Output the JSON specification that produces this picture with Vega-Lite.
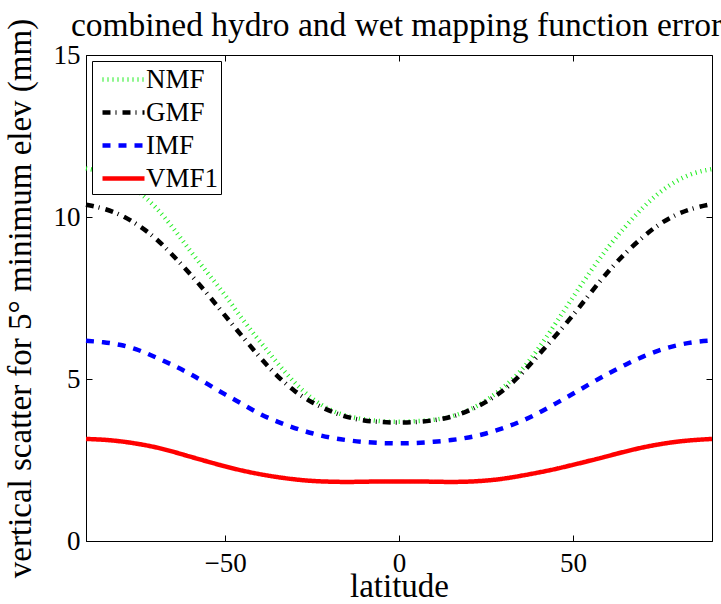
{
  "$schema": "https://vega.github.io/schema/vega-lite/v6.json",
  "width": 626,
  "height": 486,
  "autosize": {"type": "none"},
  "padding": {"left": 86, "top": 55, "right": 9, "bottom": 63},
  "background": "white",
  "config": {
    "font": "Liberation Serif",
    "view": {"stroke": "black", "strokeWidth": 1},
    "axis": {
      "labelFont": "Liberation Serif",
      "labelFontSize": 27,
      "labelColor": "black",
      "titleFont": "Liberation Serif",
      "titleFontSize": 33,
      "titleFontWeight": "normal",
      "titleColor": "black",
      "grid": false,
      "domainColor": "black",
      "tickColor": "black",
      "tickSize": -6,
      "labelPadding": 12
    }
  },
  "title": {
    "text": "combined hydro and wet mapping function errors",
    "font": "Liberation Serif",
    "fontSize": 33.5,
    "fontWeight": "normal",
    "color": "black",
    "anchor": "middle",
    "baseline": "alphabetic",
    "offset": 20,
    "dy": 71,
    "dx": 4
  },
  "data": {
    "values": [
      {"lat": -90, "model": "NMF", "v": 11.5}, {"lat": -85, "model": "NMF", "v": 11.4}, {"lat": -80, "model": "NMF", "v": 11.15}, {"lat": -75, "model": "NMF", "v": 10.8}, {"lat": -70, "model": "NMF", "v": 10.33}, {"lat": -65, "model": "NMF", "v": 9.68}, {"lat": -60, "model": "NMF", "v": 8.94}, {"lat": -55, "model": "NMF", "v": 8.27}, {"lat": -50, "model": "NMF", "v": 7.6}, {"lat": -45, "model": "NMF", "v": 6.83}, {"lat": -40, "model": "NMF", "v": 6.16}, {"lat": -35, "model": "NMF", "v": 5.49}, {"lat": -30, "model": "NMF", "v": 4.87}, {"lat": -25, "model": "NMF", "v": 4.38}, {"lat": -20, "model": "NMF", "v": 4.04}, {"lat": -15, "model": "NMF", "v": 3.85}, {"lat": -10, "model": "NMF", "v": 3.75}, {"lat": -5, "model": "NMF", "v": 3.69}, {"lat": 0, "model": "NMF", "v": 3.67}, {"lat": 5, "model": "NMF", "v": 3.7}, {"lat": 10, "model": "NMF", "v": 3.73}, {"lat": 15, "model": "NMF", "v": 3.83}, {"lat": 20, "model": "NMF", "v": 4.02}, {"lat": 25, "model": "NMF", "v": 4.32}, {"lat": 30, "model": "NMF", "v": 4.73}, {"lat": 35, "model": "NMF", "v": 5.22}, {"lat": 40, "model": "NMF", "v": 5.91}, {"lat": 45, "model": "NMF", "v": 6.71}, {"lat": 50, "model": "NMF", "v": 7.52}, {"lat": 55, "model": "NMF", "v": 8.32}, {"lat": 60, "model": "NMF", "v": 9.06}, {"lat": 65, "model": "NMF", "v": 9.7}, {"lat": 70, "model": "NMF", "v": 10.29}, {"lat": 75, "model": "NMF", "v": 10.78}, {"lat": 80, "model": "NMF", "v": 11.14}, {"lat": 85, "model": "NMF", "v": 11.38}, {"lat": 90, "model": "NMF", "v": 11.48},
      {"lat": -90, "model": "GMF", "v": 10.38}, {"lat": -85, "model": "GMF", "v": 10.27}, {"lat": -80, "model": "GMF", "v": 10.08}, {"lat": -75, "model": "GMF", "v": 9.76}, {"lat": -70, "model": "GMF", "v": 9.36}, {"lat": -65, "model": "GMF", "v": 8.82}, {"lat": -60, "model": "GMF", "v": 8.24}, {"lat": -55, "model": "GMF", "v": 7.62}, {"lat": -50, "model": "GMF", "v": 6.95}, {"lat": -45, "model": "GMF", "v": 6.31}, {"lat": -40, "model": "GMF", "v": 5.66}, {"lat": -35, "model": "GMF", "v": 5.08}, {"lat": -30, "model": "GMF", "v": 4.61}, {"lat": -25, "model": "GMF", "v": 4.27}, {"lat": -20, "model": "GMF", "v": 4.01}, {"lat": -15, "model": "GMF", "v": 3.82}, {"lat": -10, "model": "GMF", "v": 3.71}, {"lat": -5, "model": "GMF", "v": 3.67}, {"lat": 0, "model": "GMF", "v": 3.65}, {"lat": 5, "model": "GMF", "v": 3.67}, {"lat": 10, "model": "GMF", "v": 3.72}, {"lat": 15, "model": "GMF", "v": 3.82}, {"lat": 20, "model": "GMF", "v": 4.01}, {"lat": 25, "model": "GMF", "v": 4.28}, {"lat": 30, "model": "GMF", "v": 4.63}, {"lat": 35, "model": "GMF", "v": 5.12}, {"lat": 40, "model": "GMF", "v": 5.73}, {"lat": 45, "model": "GMF", "v": 6.33}, {"lat": 50, "model": "GMF", "v": 6.96}, {"lat": 55, "model": "GMF", "v": 7.65}, {"lat": 60, "model": "GMF", "v": 8.31}, {"lat": 65, "model": "GMF", "v": 8.88}, {"lat": 70, "model": "GMF", "v": 9.38}, {"lat": 75, "model": "GMF", "v": 9.8}, {"lat": 80, "model": "GMF", "v": 10.1}, {"lat": 85, "model": "GMF", "v": 10.29}, {"lat": 90, "model": "GMF", "v": 10.4},
      {"lat": -90, "model": "IMF", "v": 6.18}, {"lat": -85, "model": "IMF", "v": 6.14}, {"lat": -80, "model": "IMF", "v": 6.06}, {"lat": -75, "model": "IMF", "v": 5.91}, {"lat": -70, "model": "IMF", "v": 5.67}, {"lat": -65, "model": "IMF", "v": 5.43}, {"lat": -60, "model": "IMF", "v": 5.16}, {"lat": -55, "model": "IMF", "v": 4.84}, {"lat": -50, "model": "IMF", "v": 4.52}, {"lat": -45, "model": "IMF", "v": 4.23}, {"lat": -40, "model": "IMF", "v": 3.91}, {"lat": -35, "model": "IMF", "v": 3.68}, {"lat": -30, "model": "IMF", "v": 3.48}, {"lat": -25, "model": "IMF", "v": 3.32}, {"lat": -20, "model": "IMF", "v": 3.19}, {"lat": -15, "model": "IMF", "v": 3.11}, {"lat": -10, "model": "IMF", "v": 3.05}, {"lat": -5, "model": "IMF", "v": 3.02}, {"lat": 0, "model": "IMF", "v": 3.01}, {"lat": 5, "model": "IMF", "v": 3.02}, {"lat": 10, "model": "IMF", "v": 3.06}, {"lat": 15, "model": "IMF", "v": 3.11}, {"lat": 20, "model": "IMF", "v": 3.19}, {"lat": 25, "model": "IMF", "v": 3.31}, {"lat": 30, "model": "IMF", "v": 3.48}, {"lat": 35, "model": "IMF", "v": 3.68}, {"lat": 40, "model": "IMF", "v": 3.94}, {"lat": 45, "model": "IMF", "v": 4.24}, {"lat": 50, "model": "IMF", "v": 4.54}, {"lat": 55, "model": "IMF", "v": 4.86}, {"lat": 60, "model": "IMF", "v": 5.16}, {"lat": 65, "model": "IMF", "v": 5.44}, {"lat": 70, "model": "IMF", "v": 5.69}, {"lat": 75, "model": "IMF", "v": 5.9}, {"lat": 80, "model": "IMF", "v": 6.05}, {"lat": 85, "model": "IMF", "v": 6.15}, {"lat": 90, "model": "IMF", "v": 6.19},
      {"lat": -90, "model": "VMF1", "v": 3.15}, {"lat": -85, "model": "VMF1", "v": 3.13}, {"lat": -80, "model": "VMF1", "v": 3.08}, {"lat": -75, "model": "VMF1", "v": 3.0}, {"lat": -70, "model": "VMF1", "v": 2.9}, {"lat": -65, "model": "VMF1", "v": 2.76}, {"lat": -60, "model": "VMF1", "v": 2.6}, {"lat": -55, "model": "VMF1", "v": 2.45}, {"lat": -50, "model": "VMF1", "v": 2.3}, {"lat": -45, "model": "VMF1", "v": 2.17}, {"lat": -40, "model": "VMF1", "v": 2.06}, {"lat": -35, "model": "VMF1", "v": 1.97}, {"lat": -30, "model": "VMF1", "v": 1.9}, {"lat": -25, "model": "VMF1", "v": 1.85}, {"lat": -20, "model": "VMF1", "v": 1.83}, {"lat": -15, "model": "VMF1", "v": 1.82}, {"lat": -10, "model": "VMF1", "v": 1.83}, {"lat": -5, "model": "VMF1", "v": 1.84}, {"lat": 0, "model": "VMF1", "v": 1.84}, {"lat": 5, "model": "VMF1", "v": 1.84}, {"lat": 10, "model": "VMF1", "v": 1.83}, {"lat": 15, "model": "VMF1", "v": 1.82}, {"lat": 20, "model": "VMF1", "v": 1.83}, {"lat": 25, "model": "VMF1", "v": 1.86}, {"lat": 30, "model": "VMF1", "v": 1.92}, {"lat": 35, "model": "VMF1", "v": 2.01}, {"lat": 40, "model": "VMF1", "v": 2.11}, {"lat": 45, "model": "VMF1", "v": 2.22}, {"lat": 50, "model": "VMF1", "v": 2.35}, {"lat": 55, "model": "VMF1", "v": 2.48}, {"lat": 60, "model": "VMF1", "v": 2.62}, {"lat": 65, "model": "VMF1", "v": 2.76}, {"lat": 70, "model": "VMF1", "v": 2.89}, {"lat": 75, "model": "VMF1", "v": 2.99}, {"lat": 80, "model": "VMF1", "v": 3.07}, {"lat": 85, "model": "VMF1", "v": 3.12}, {"lat": 90, "model": "VMF1", "v": 3.15}
    ]
  },
  "layer": [
    {
      "mark": {"type": "line", "strokeWidth": 4.5, "strokeCap": "butt", "interpolate": "basis"},
      "encoding": {
        "x": {
          "field": "lat", "type": "quantitative",
          "scale": {"domain": [-90, 90], "nice": false},
          "axis": {"values": [-50, 0, 50], "title": "latitude", "labelPadding": 15, "titlePadding": -6}
        },
        "y": {
          "field": "v", "type": "quantitative",
          "scale": {"domain": [0, 15], "nice": false},
          "axis": {"values": [0, 5, 10, 15], "title": "vertical scatter for 5° minimum elev (mm)", "titlePadding": 16}
        },
        "color": {
          "field": "model", "type": "nominal",
          "scale": {"domain": ["NMF", "GMF", "IMF", "VMF1"], "range": ["#22ee22", "black", "blue", "red"]},
          "legend": {
            "title": null,
            "orient": "top-left",
            "offset": 6,
            "padding": 2,
            "strokeColor": "black",
            "fillColor": "white",
            "symbolType": "M-1.5,0H1.5",
            "symbolSize": 784,
            "symbolStrokeWidth": 4.5,
            "symbolOffset": 13,
            "labelFont": "Liberation Serif",
            "labelFontSize": 27,
            "labelColor": "black",
            "labelOffset": 6,
            "rowPadding": 3
          }
        },
        "strokeDash": {
          "field": "model", "type": "nominal",
          "scale": {"domain": ["NMF", "GMF", "IMF", "VMF1"], "range": [[1, 4], [8, 5, 1, 6], [8, 8], [1, 0]]}
        }
      }
    },
    {
      "mark": {"type": "point", "opacity": 0},
      "encoding": {
        "x": {
          "field": "lat", "type": "quantitative",
          "axis": {"orient": "top", "values": [-50, 0, 50], "labels": false, "domain": false, "title": null}
        },
        "y": {
          "field": "v", "type": "quantitative",
          "axis": {"orient": "right", "values": [0, 5, 10, 15], "labels": false, "domain": false, "title": null}
        }
      }
    }
  ],
  "resolve": {"axis": {"x": "independent", "y": "independent"}}
}
